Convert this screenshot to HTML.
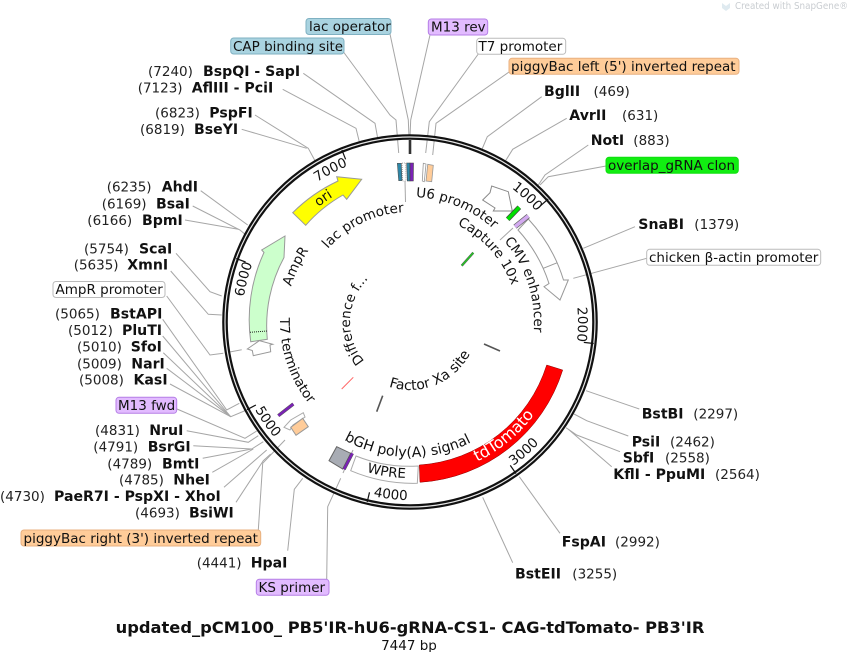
<!DOCTYPE html>
<html><head><meta charset="utf-8"><style>
html,body{margin:0;padding:0;background:#fff}
svg{display:block;font-family:"DejaVu Sans",sans-serif;font-size:13.5px;fill:#111}
.l{fill:none;stroke:#a6a6a6;stroke-width:1}
.b{font-weight:bold;font-size:14.1px}
.p{fill:#222}
</style></head><body>
<svg width="848" height="652" viewBox="0 0 848 652" xmlns="http://www.w3.org/2000/svg">
<defs>
<path id="c125" d="M410 197A125 125 0 0 1 410 447A125 125 0 0 1 410 197"/>
<path id="c110" d="M410 212A110 110 0 0 1 410 432A110 110 0 0 1 410 212"/>
<path id="c124" d="M410 198A124 124 0 0 1 410 446A124 124 0 0 1 410 198"/>
<path id="c60" d="M410 262A60 60 0 0 1 410 382A60 60 0 0 1 410 262"/>
<path id="c108" d="M410 214A108 108 0 0 1 410 430A108 108 0 0 1 410 214"/>
<path id="c147" d="M410 175A147 147 0 0 1 410 469A147 147 0 0 1 410 175"/>
<path id="c168" d="M410 154A168 168 0 0 1 410 490A168 168 0 0 1 410 154"/>
<path id="a130" d="M410 192A130 130 0 0 0 410 452A130 130 0 0 0 410 192"/>
<path id="a68" d="M410 254A68 68 0 0 0 410 390A68 68 0 0 0 410 254"/>
<path id="a155" d="M410 167A155 155 0 0 0 410 477A155 155 0 0 0 410 167"/>
<path id="a156" d="M410 166A156 156 0 0 0 410 478A156 156 0 0 0 410 166"/>
<path id="a135" d="M410 187A135 135 0 0 0 410 457A135 135 0 0 0 410 187"/>
<path id="a177" d="M410 145A177 177 0 0 0 410 499A177 177 0 0 0 410 145"/>
<path id="a178" d="M410 144A178 178 0 0 0 410 500A178 178 0 0 0 410 144"/>
</defs>

<!-- watermark -->
<path d="M722 3l4 3l4-3v5l-4 3l-4-3z" fill="#dfeaf0"/>
<text x="735" y="9" textLength="113" lengthAdjust="spacingAndGlyphs" style="font-size:10px;fill:#c9cdd1">Created with SnapGene®</text>

<!-- leaders -->
<g class="l">
<polyline points="390,34 408.3,120 409,137"/>
<polyline points="430,35 410.7,120 410,137"/>
<polyline points="343.5,52 390,115 396,120 398.7,153"/>
<polyline points="478.3,54 429.3,121.7 425.7,153"/>
<polyline points="509,72 436,123.3 432.7,155"/>
<polyline points="303.3,73.3 375,123.3 377.7,138.3"/>
<polyline points="282.7,89.3 356,128.3 359.3,141.7"/>
<polyline points="255,115 308.3,148.3 315,160.7"/>
<polyline points="241.7,129.3 306.7,148.3"/>
<polyline points="200.7,190.7 247.7,225"/>
<polyline points="192.7,206 240,230 245,234.3"/>
<polyline points="185,220 238.3,229.3"/>
<polyline points="176,253.3 210,291.7 221.7,296"/>
<polyline points="170.7,271 208.3,314.3 221.7,315"/>
<polyline points="166.7,296 210,355 223.3,353.3"/><line x1="227" y1="352.5" x2="241.7" y2="349.8"/>
<polyline points="162.7,319.3 226.7,410 239.3,403.3"/>
<polyline points="162.7,336 230.7,416.7"/>
<polyline points="163.3,352.7 230.7,416.7"/>
<polyline points="166.7,368.3 230.7,416.7"/>
<polyline points="170,384 230.7,416.7 249,409"/>
<polyline points="177,409 245,438.3 256.7,431"/>
<polyline points="186.7,430.7 248.3,442.3 258.3,435.7"/>
<polyline points="193.3,445.7 251.7,449 263.3,441.7"/>
<polyline points="202.7,458.3 251.7,449"/>
<polyline points="212.3,472.3 253.3,449"/>
<polyline points="224,487.3 266.7,450"/>
<polyline points="236,502.3 263.3,460.7 270.7,454"/>
<polyline points="258.3,530 262.7,463.3 285,440"/>
<polyline points="287.7,550.7 294.3,489.3 302.7,478.3"/>
<polyline points="326.7,579 327.7,506.7 340.7,478.3"/>
<polyline points="541.7,96.7 487.3,136.7 481.7,150"/>
<polyline points="566.7,118.3 512.7,149.3 505,161.7"/>
<polyline points="588.3,145 545,175 538.3,185"/>
<polyline points="606,166 548.3,176.7 540,185"/>
<polyline points="635,226.7 583.3,248.3"/>
<polyline points="646.7,258.3 573.3,278.3"/>
<polyline points="639.3,409 586,390.7"/>
<polyline points="628.3,436 586.7,420.7 574,414"/>
<polyline points="620,451.7 576.7,435 566,427.7"/>
<polyline points="611.7,466.7 568.3,429.3"/>
<polyline points="560,533.3 519.3,476.7"/>
<polyline points="512.7,562.7 482.7,497.3"/>
<line x1="405" y1="181" x2="405.5" y2="202"/>
<line x1="500" y1="240" x2="513" y2="228"/>
<line x1="343" y1="473" x2="353" y2="450"/>
</g>

<!-- ring -->
<circle cx="410" cy="322" r="185" fill="none" stroke="#111" stroke-width="5.6"/>
<circle cx="410" cy="322" r="185" fill="none" stroke="#e8e8e8" stroke-width="1.2"/>
<line x1="410" y1="140" x2="410" y2="154" stroke="#333" stroke-width="2.6"/>

<!-- ticks -->
<g stroke="#111" stroke-width="1.2">
<line x1="548.2" y1="199" x2="540.7" y2="205.6"/>
<line x1="593.7" y1="343.5" x2="583.8" y2="342.4"/>
<line x1="516" y1="473.6" x2="510.3" y2="465.4"/>
<line x1="367.2" y1="502" x2="369.5" y2="492.3"/>
<line x1="247" y1="409.7" x2="255.9" y2="405"/>
<line x1="236.2" y1="258.6" x2="245.6" y2="262"/>
<line x1="341.9" y1="150" x2="345.6" y2="159.3"/>
</g>

<!-- features -->
<path d="M419.3 465A143.3 143.3 0 0 0 546.7 365L562.7 370A160 160 0 0 1 420 482.3Z" fill="#ff0000" stroke="#800" stroke-width=".5"/>
<path d="M356 456A143 143 0 0 0 418.3 466L417.3 483.3A160 160 0 0 1 350.7 470.7Z" fill="#fff" stroke="#aaa"/>
<path d="M292.7 212.7L305.7 225.3A143 143 0 0 1 343 195L346.7 199.3L361.7 179.3L336.7 176.7L338 181A160 160 0 0 0 292.7 212.7Z" fill="#ffff00" stroke="#999"/>
<path d="M250.7 341.7L267.3 339.3A143 143 0 0 1 284 257.5L285 236L261.7 250L264 252.5A160 160 0 0 0 250.7 341.7Z" fill="#ccffcc" stroke="#999"/>
<line x1="250" y1="332.3" x2="267.3" y2="331" stroke="#222" stroke-dasharray="1 1"/>
<polygon points="247.3,349 259.3,340.7 272.7,344.3 270,345 270.7,351.7 253.3,355.7 252.3,350.5" fill="#fff" stroke="#999"/>
<path d="M518 230L528.3 219A157 157 0 0 1 563.5 280L568.3 280L560 300L544 286.7L549 283.5A145 145 0 0 0 518 230Z" fill="#fff" stroke="#999"/>
<line x1="543.3" y1="268.3" x2="557.3" y2="262.7" stroke="#999"/>
<polygon points="482.7,200 490,192.7 491.7,186 508.3,191.7 512.3,211 493.3,211 495,208" fill="#fff" stroke="#888"/>
<line x1="507.7" y1="219.3" x2="519.3" y2="207.3" stroke="#444" stroke-width="5"/>
<line x1="507.7" y1="219.3" x2="519.3" y2="207.3" stroke="#00e000" stroke-width="3.6"/>
<line x1="515" y1="226.7" x2="528.3" y2="216" stroke="#666" stroke-width="5"/>
<line x1="515" y1="226.7" x2="528.3" y2="216" stroke="#d3aaf0" stroke-width="3.6"/>
<line x1="461.7" y1="265.7" x2="473.3" y2="252.7" stroke="#555" stroke-width="2.4"/>
<line x1="461.7" y1="265.7" x2="473.3" y2="252.7" stroke="#22cc22" stroke-width="1.4"/>
<polygon points="397.3,163.3 401.3,163.3 402,180.7 398.7,180.7" fill="#2d87a8" stroke="#555" stroke-width=".6"/>
<polygon points="402,163 405.7,163 406,181 402.7,181" fill="#fff" stroke="#777" stroke-width=".6" stroke-dasharray="1 1"/>
<polygon points="406.7,163 410,163 410,181 407.3,181" fill="#2d87a8" stroke="#444" stroke-width=".6"/>
<polygon points="410,163 413.5,163 413.3,181 410,181" fill="#7a22b5" stroke="#444" stroke-width=".6"/>
<polygon points="423.3,163.3 426,164 424.3,181.7 422.3,181" fill="#fff" stroke="#999" stroke-width=".8"/>
<polygon points="427.7,164.3 433.3,165.3 431.7,181.7 426,181" fill="#ffcc99" stroke="#999" stroke-width=".8"/>
<line x1="278.3" y1="415.7" x2="293.3" y2="404" stroke="#555" stroke-width="3.4"/>
<line x1="278.3" y1="415.7" x2="293.3" y2="404" stroke="#7a22b5" stroke-width="2.4"/>
<polygon points="284,427.3 290.7,420 303.3,412.7 305,417 293,425 290,430" fill="#fff" stroke="#aaa"/>
<polygon points="290.7,427.3 302.7,418.3 308.3,426.7 296,435.3" fill="#ffcc99" stroke="#999"/>
<polygon points="336.7,446.7 350.7,453.3 342.7,469 329,460.7" fill="#a8acb4" stroke="#666"/>
<line x1="352.3" y1="453.3" x2="344" y2="469.3" stroke="#555" stroke-width="3.4"/>
<line x1="352.3" y1="453.3" x2="344" y2="469.3" stroke="#7a22b5" stroke-width="2.4"/>
<line x1="382.7" y1="395.7" x2="376.7" y2="411.7" stroke="#555" stroke-width="1.6"/>
<line x1="484" y1="344" x2="500" y2="351" stroke="#555" stroke-width="1.6"/>
<line x1="353.3" y1="377.3" x2="341.7" y2="389" stroke="#f66" stroke-width="1"/>

<!-- curved labels -->
<text><textPath href="#c125" startOffset="5.9">U6 promoter</textPath></text>
<text><textPath href="#c110" startOffset="597.6">lac promoter</textPath></text>
<text><textPath href="#c124" startOffset="620">AmpR</textPath></text>
<text><textPath href="#c60" startOffset="239.7">Difference f...</textPath></text>
<text><textPath href="#c108" startOffset="49">Capture 10x</textPath></text>
<text><textPath href="#c124" startOffset="106.7">CMV enhancer</textPath></text>
<text><textPath href="#c147" startOffset="824.6">ori</textPath></text>
<text><textPath href="#c168" startOffset="109">1000</textPath></text>
<text><textPath href="#c168" startOffset="249">2000</textPath></text>
<text><textPath href="#c168" startOffset="816.6">6000</textPath></text>
<text><textPath href="#c168" startOffset="957">7000</textPath></text>
<text><textPath href="#a130" startOffset="199.7">T7 terminator</textPath></text>
<text style="font-size:14px"><textPath href="#a68" startOffset="191.7">Factor Xa site</textPath></text>
<text style="fill:#fff;font-size:16px"><textPath href="#a155" startOffset="556">tdTomato</textPath></text>
<text><textPath href="#a156" startOffset="446">WPRE</textPath></text>
<text style="font-size:14.2px"><textPath href="#a135" startOffset="355">bGH poly(A) signal</textPath></text>
<text><textPath href="#a177" startOffset="666">3000</textPath></text>
<text><textPath href="#a178" startOffset="522">4000</textPath></text>
<text><textPath href="#a178" startOffset="371">5000</textPath></text>

<!-- boxes -->
<g stroke-width="1">
<rect x="306" y="18.5" width="85" height="16" rx="3" fill="#a9d3e0" stroke="#7fb1c2"/>
<rect x="230.7" y="38" width="113.3" height="16" rx="3" fill="#a9d3e0" stroke="#7fb1c2"/>
<rect x="428.3" y="19" width="59.4" height="16" rx="3" fill="#e2bbff" stroke="#b57ee6"/>
<rect x="476.7" y="38.3" width="89" height="16" rx="3" fill="#fff" stroke="#bbb"/>
<rect x="509" y="58.3" width="230" height="16" rx="3" fill="#ffcc99" stroke="#e8b080"/>
<rect x="606" y="157.3" width="132.3" height="16" rx="3" fill="#11ee11" stroke="#11dd11"/>
<rect x="646.7" y="249.3" width="174" height="16" rx="3" fill="#fff" stroke="#bbb"/>
<rect x="53" y="281.5" width="112" height="16" rx="3" fill="#fff" stroke="#bbb"/>
<rect x="116" y="397.3" width="60.7" height="16" rx="3" fill="#e2bbff" stroke="#b57ee6"/>
<rect x="21" y="530" width="239.7" height="16" rx="3" fill="#ffcc99" stroke="#e8b080"/>
<rect x="256.3" y="579.3" width="72.7" height="16" rx="3" fill="#e2bbff" stroke="#b57ee6"/>
</g>
<text x="309" y="31">lac operator</text>
<text x="233" y="51">CAP binding site</text>
<text x="431" y="31.5">M13 rev</text>
<text x="478.5" y="51">T7 promoter</text>
<text x="511" y="71">piggyBac left (5') inverted repeat</text>
<text x="608" y="170">overlap_gRNA clon</text>
<text x="649" y="262">chicken β-actin promoter</text>
<text x="55.5" y="294">AmpR promoter</text>
<text x="118" y="410">M13 fwd</text>
<text x="23.5" y="543">piggyBac right (3') inverted repeat</text>
<text x="258.5" y="592">KS primer</text>

<!-- enzymes left -->
<text class="p" x="148" y="76">(7240)</text><text class="b" x="203" y="76">BspQI - SapI</text>
<text class="p" x="137.7" y="92.3">(7123)</text><text class="b" x="191.7" y="92.3">AflIII - PciI</text>
<text class="p" x="155" y="117.3">(6823)</text><text class="b" x="209.3" y="117.3">PspFI</text>
<text class="p" x="140" y="134">(6819)</text><text class="b" x="194" y="134">BseYI</text>
<text class="p" x="106.7" y="191.7">(6235)</text><text class="b" x="161.7" y="191.7">AhdI</text>
<text class="p" x="101.7" y="208.3">(6169)</text><text class="b" x="156" y="208.3">BsaI</text>
<text class="p" x="87.3" y="225">(6166)</text><text class="b" x="142" y="225">BpmI</text>
<text class="p" x="84" y="253.3">(5754)</text><text class="b" x="139" y="253.3">ScaI</text>
<text class="p" x="73.7" y="269.3">(5635)</text><text class="b" x="127.3" y="269.3">XmnI</text>
<text class="p" x="55" y="318.3">(5065)</text><text class="b" x="110" y="318.3">BstAPI</text>
<text class="p" x="68" y="335">(5012)</text><text class="b" x="122" y="335">PluTI</text>
<text class="p" x="77" y="351.7">(5010)</text><text class="b" x="130.7" y="351.7">SfoI</text>
<text class="p" x="77" y="368.3">(5009)</text><text class="b" x="131.3" y="368.3">NarI</text>
<text class="p" x="79" y="384.3">(5008)</text><text class="b" x="133.5" y="384.3">KasI</text>
<text class="p" x="95" y="435">(4831)</text><text class="b" x="149.3" y="435">NruI</text>
<text class="p" x="93.3" y="451.7">(4791)</text><text class="b" x="147.7" y="451.7">BsrGI</text>
<text class="p" x="107.3" y="468.3">(4789)</text><text class="b" x="162" y="468.3">BmtI</text>
<text class="p" x="119" y="484.3">(4785)</text><text class="b" x="173.3" y="484.3">NheI</text>
<text class="p" x="0" y="501">(4730)</text><text class="b" x="54" y="501">PaeR7I - PspXI - XhoI</text>
<text class="p" x="135" y="517.7">(4693)</text><text class="b" x="189" y="517.7">BsiWI</text>
<text class="p" x="196.7" y="567.7">(4441)</text><text class="b" x="250.7" y="567.7">HpaI</text>

<!-- enzymes right -->
<text class="b" x="544" y="96">BglII</text><text class="p" x="593.5" y="96">(469)</text>
<text class="b" x="569.3" y="120">AvrII</text><text class="p" x="622" y="120">(631)</text>
<text class="b" x="590.7" y="145">NotI</text><text class="p" x="633.3" y="145">(883)</text>
<text class="b" x="638.3" y="229">SnaBI</text><text class="p" x="694.3" y="229">(1379)</text>
<text class="b" x="641.7" y="418.3">BstBI</text><text class="p" x="693.3" y="418.3">(2297)</text>
<text class="b" x="631.7" y="446.7">PsiI</text><text class="p" x="670" y="446.7">(2462)</text>
<text class="b" x="622.7" y="462.7">SbfI</text><text class="p" x="665" y="462.7">(2558)</text>
<text class="b" x="613.3" y="479">KflI - PpuMI</text><text class="p" x="715" y="479">(2564)</text>
<text class="b" x="561.7" y="546.7">FspAI</text><text class="p" x="615" y="546.7">(2992)</text>
<text class="b" x="515" y="578.3">BstEII</text><text class="p" x="572.3" y="578.3">(3255)</text>

<!-- title -->
<text x="410" y="633" text-anchor="middle" font-weight="bold" style="font-size:16.3px">updated_pCM100_ PB5'IR-hU6-gRNA-CS1- CAG-tdTomato- PB3'IR</text>
<text x="409" y="650" text-anchor="middle">7447 bp</text>
</svg>
</body></html>
